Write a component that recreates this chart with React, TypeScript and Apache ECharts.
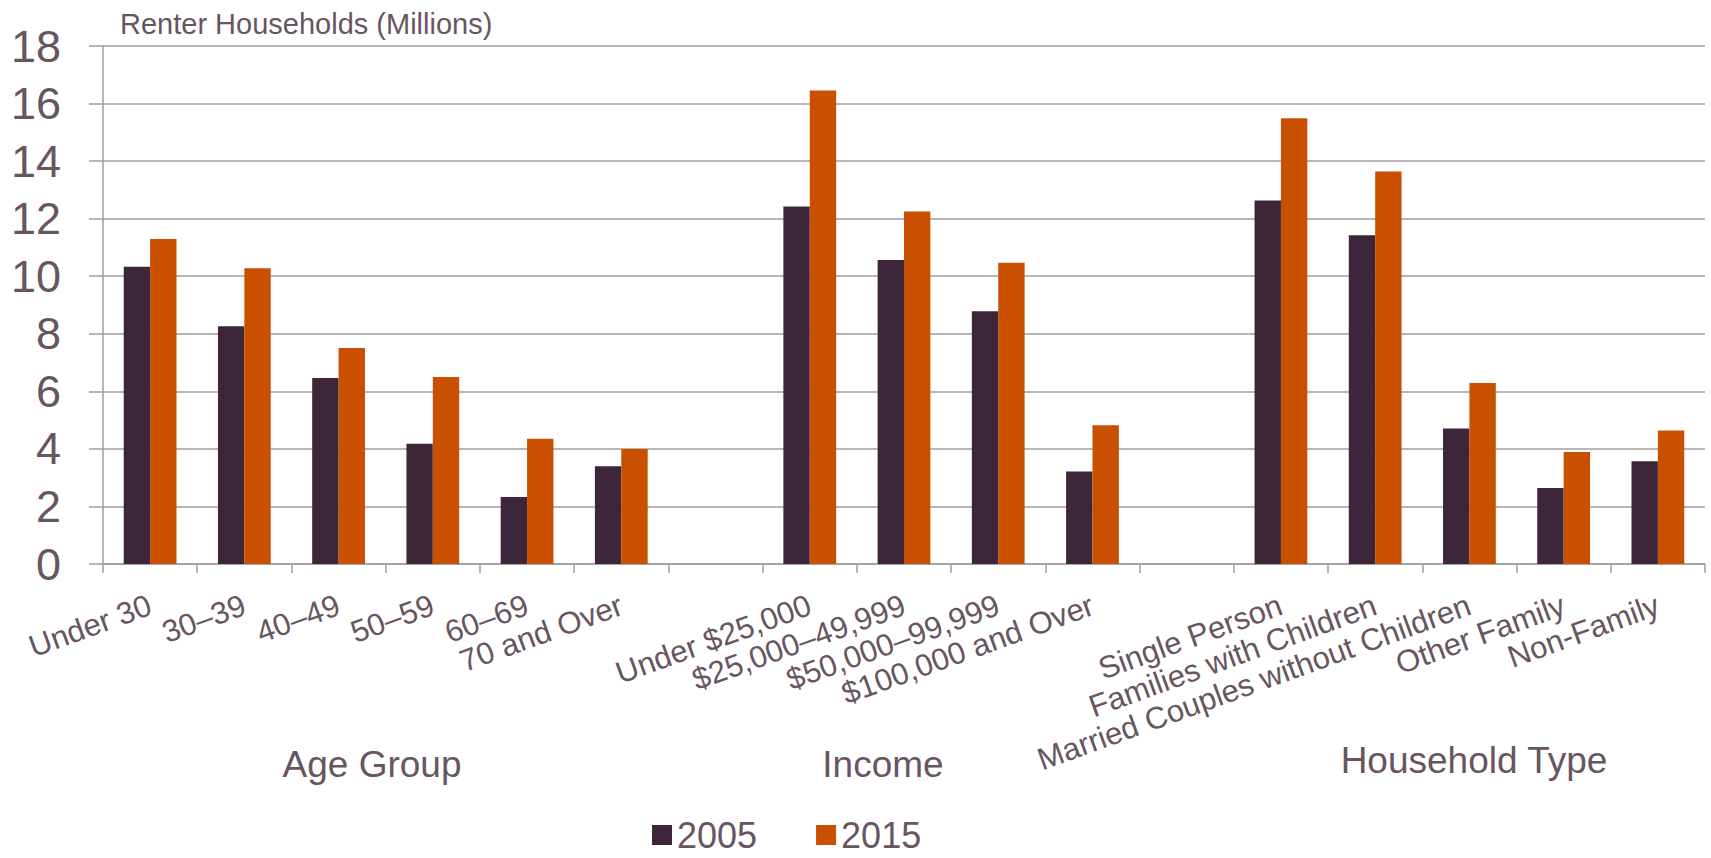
import React, { useEffect, useRef } from "react";
import * as echarts from "echarts";

const categories = [
  "Under 30", "30–39", "40–49", "50–59", "60–69", "70 and Over", "",
  "Under $25,000", "$25,000–49,999", "$50,000–99,999", "$100,000 and Over", "",
  "Single Person", "Families with Children", "Married Couples without Children", "Other Family", "Non-Family",
];
const values2005 = [10.33, 8.26, 6.46, 4.18, 2.33, 3.4, null, 12.42, 10.56, 8.78, 3.21, null, 12.63, 11.42, 4.71, 2.64, 3.57];
const values2015 = [11.29, 10.28, 7.51, 6.5, 4.35, 4.0, null, 16.45, 12.25, 10.47, 4.82, null, 15.49, 13.64, 6.29, 3.89, 4.64];
const seriesNames = ["2005", "2015"];
const groupLabels = ["Age Group", "Income", "Household Type"];
const yTitle = "Renter Households (Millions)";

const TEXT = "#685560";
const GRID = "#a29c9f";
const DARK = "#3d2639";
const ORANGE = "#c85000";
const FONT = "'Liberation Sans', Arial, sans-serif";

export default function App() {
  const ref = useRef<HTMLDivElement>(null);
  useEffect(() => {
    document.body.style.margin = "0";
    const chart = echarts.init(ref.current!, null, { renderer: "svg" });
    chart.setOption({
      animation: false,
      backgroundColor: "#ffffff",
      textStyle: { fontFamily: FONT },
      title: {
        text: yTitle,
        left: 120,
        top: 9,
        padding: 0,
        textStyle: { color: TEXT, fontSize: 29, fontWeight: "normal", fontFamily: FONT },
      },
      legend: {
        data: seriesNames,
        left: 652,
        top: 817,
        padding: 0,
        icon: "rect",
        itemWidth: 20,
        itemHeight: 20,
        itemGap: 59,
        textStyle: { color: TEXT, fontSize: 36, fontFamily: FONT, lineHeight: 34 },
      },
      grid: { left: 103, right: 6, top: 46, bottom: 294, containLabel: false },
      xAxis: {
        type: "category",
        data: categories,
        axisLine: { lineStyle: { color: GRID, width: 1.5 } },
        axisTick: { show: true, length: 9, lineStyle: { color: GRID, width: 1.5 } },
        axisLabel: {
          interval: 0,
          rotate: 20,
          margin: 40,
          fontSize: 31,
          color: TEXT,
          fontFamily: FONT,
        },
      },
      yAxis: {
        type: "value",
        min: 0,
        max: 18,
        interval: 2,
        axisLine: { show: true, lineStyle: { color: GRID, width: 1.5 } },
        axisTick: { show: true, inside: false, length: 14, lineStyle: { color: GRID, width: 1.5 } },
        axisLabel: { fontSize: 45, color: TEXT, margin: 42, fontFamily: FONT },
        splitLine: { show: true, lineStyle: { color: GRID, width: 1.5 } },
      },
      graphic: [
        { type: "text", x: 372, y: 764, style: { text: groupLabels[0], fill: TEXT, fontSize: 37, fontFamily: FONT, textAlign: "center", textVerticalAlign: "middle" } },
        { type: "text", x: 883, y: 764, style: { text: groupLabels[1], fill: TEXT, fontSize: 37, fontFamily: FONT, textAlign: "center", textVerticalAlign: "middle" } },
        { type: "text", x: 1474, y: 760, style: { text: groupLabels[2], fill: TEXT, fontSize: 37, fontFamily: FONT, textAlign: "center", textVerticalAlign: "middle" } },
      ],
      series: [
        {
          name: seriesNames[0],
          type: "bar",
          data: values2005,
          barWidth: "28%",
          barGap: "0%",
          itemStyle: { color: DARK },
        },
        {
          name: seriesNames[1],
          type: "bar",
          data: values2015,
          barWidth: "28%",
          barGap: "0%",
          itemStyle: { color: ORANGE },
        },
      ],
    });
    return () => chart.dispose();
  }, []);
  return (
    <div
      ref={ref}
      style={{ position: "absolute", left: 0, top: 0, width: 1711, height: 858 }}
    />
  );
}
